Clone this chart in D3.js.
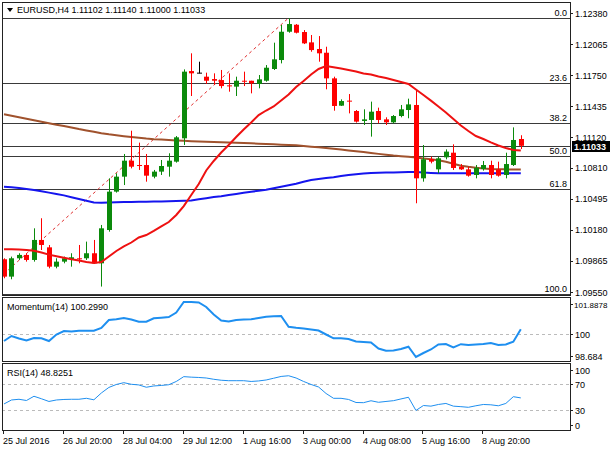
<!DOCTYPE html>
<html>
<head>
<meta charset="utf-8">
<script src="https://cdn.jsdelivr.net/npm/d3@7"></script>
<style>
    body { margin: 0; background: #fff; }
    svg text { font-family: "Liberation Sans", Arial, sans-serif; font-size: 9px; fill: #000; }
</style>
</head>
<body>
<svg id="chart" width="610" height="450"></svg>
<script>
// EURUSD H4 candles
var opens  = [1.09882,1.09706,1.09892,1.09926,1.09875,1.10078,1.10003,1.09807,1.09858,1.09885,
              1.09892,1.09892,1.09943,1.09841,1.10179,1.10568,1.10720,1.10882,1.10838,1.10838,
              1.10720,1.10771,1.10821,1.10872,1.11109,1.11791,1.11775,1.11734,1.11710,1.11700,
              1.11646,1.11633,1.11693,1.11693,1.11660,1.11693,1.11812,1.11903,1.12190,1.12261,
              1.12187,1.12082,1.12015,1.11977,1.11717,1.11440,1.11491,1.11386,1.11285,1.11295,
              1.11386,1.11301,1.11271,1.11335,1.11396,1.11447,1.10703,1.10899,1.10794,1.10916,
              1.10963,1.10821,1.10794,1.10737,1.10798,1.10838,1.10794,1.10737,1.10838,1.11102];
var highs  = [1.09892,1.09909,1.09943,1.09943,1.10196,1.10298,1.10027,1.09892,1.09909,1.09943,
              1.10027,1.10061,1.10078,1.10230,1.10703,1.10754,1.10950,1.11186,1.11065,1.10950,
              1.10788,1.10889,1.10957,1.11132,1.11808,1.11971,1.11886,1.11775,1.11768,1.11802,
              1.11768,1.11734,1.11785,1.11693,1.11751,1.11852,1.12079,1.12258,1.12326,1.12268,
              1.12207,1.12157,1.12146,1.12038,1.11734,1.11504,1.11558,1.11396,1.11403,1.11481,
              1.11420,1.11322,1.11345,1.11447,1.11511,1.11599,1.11041,1.10923,1.10923,1.10997,
              1.11048,1.10848,1.10821,1.10838,1.10879,1.10882,1.10872,1.10963,1.11220,1.11140];
var lows   = [1.09689,1.09679,1.09875,1.09858,1.09858,1.09976,1.09790,1.09790,1.09841,1.09807,
              1.09841,1.09875,1.09834,1.09605,1.10162,1.10558,1.10635,1.10804,1.10788,1.10669,
              1.10703,1.10737,1.10720,1.10862,1.11041,1.11538,1.11768,1.11660,1.11650,1.11616,
              1.11582,1.11538,1.11639,1.11565,1.11616,1.11683,1.11802,1.11869,1.12180,1.12173,
              1.12065,1.11987,1.11886,1.11606,1.11389,1.11437,1.11362,1.11268,1.11244,1.11126,
              1.11261,1.11244,1.11261,1.11322,1.11312,1.10450,1.10669,1.10855,1.10754,1.10896,
              1.10788,1.10788,1.10720,1.10703,1.10781,1.10703,1.10720,1.10703,1.10828,1.11000];
var closes = [1.09706,1.09892,1.09926,1.09875,1.10078,1.10027,1.09807,1.09858,1.09892,1.09902,
              1.09882,1.09943,1.09841,1.10196,1.10568,1.10720,1.10882,1.10821,1.10828,1.10730,
              1.10771,1.10828,1.10882,1.11119,1.11785,1.11768,1.11775,1.11693,1.11693,1.11639,
              1.11636,1.11693,1.11687,1.11666,1.11707,1.11825,1.11910,1.12190,1.12268,1.12180,
              1.12072,1.12004,1.11971,1.11717,1.11437,1.11487,1.11481,1.11278,1.11301,1.11379,
              1.11295,1.11271,1.11335,1.11403,1.11453,1.10703,1.10896,1.10872,1.10906,1.10974,
              1.10808,1.10794,1.10730,1.10811,1.10838,1.10737,1.10730,1.10848,1.11092,1.11033];

// moving averages as drawn on the chart
var maRed   = [1.09983,1.09983,1.09981,1.09976,1.09969,1.09951,1.09929,1.09913,1.09897,1.09882,
               1.09870,1.09854,1.09844,1.09854,1.09910,1.09966,1.10012,1.10052,1.10103,1.10128,
               1.10169,1.10215,1.10260,1.10331,1.10422,1.10534,1.10646,1.10783,1.10879,1.10965,
               1.11041,1.11122,1.11198,1.11269,1.11345,1.11391,1.11432,1.11493,1.11553,1.11630,
               1.11690,1.11756,1.11812,1.11842,1.11829,1.11817,1.11802,1.11787,1.11766,1.11756,
               1.11736,1.11721,1.11700,1.11680,1.11660,1.11604,1.11548,1.11491,1.11432,1.11371,
               1.11305,1.11239,1.11183,1.11132,1.11102,1.11067,1.11036,1.11011,1.10990,1.10985];
var maBlue  = [1.10618,1.10612,1.10605,1.10595,1.10584,1.10571,1.10558,1.10544,1.10530,1.10512,
               1.10494,1.10475,1.10458,1.10456,1.10458,1.10461,1.10463,1.10464,1.10465,1.10466,
               1.10467,1.10469,1.10471,1.10473,1.10476,1.10479,1.10491,1.10502,1.10513,1.10522,
               1.10534,1.10545,1.10556,1.10568,1.10576,1.10587,1.10602,1.10617,1.10632,1.10648,
               1.10669,1.10686,1.10696,1.10706,1.10715,1.10726,1.10736,1.10745,1.10751,1.10757,
               1.10760,1.10762,1.10763,1.10765,1.10767,1.10767,1.10761,1.10757,1.10754,1.10754,
               1.10754,1.10754,1.10754,1.10754,1.10754,1.10754,1.10754,1.10754,1.10754,1.10754];
var maBrown = [1.11353,1.11337,1.11322,1.11307,1.11292,1.11276,1.11261,1.11247,1.11233,1.11219,
               1.11203,1.11189,1.11175,1.11161,1.11150,1.11141,1.11131,1.11122,1.11114,1.11106,
               1.11100,1.11096,1.11091,1.11087,1.11083,1.11080,1.11076,1.11073,1.11071,1.11069,
               1.11066,1.11063,1.11061,1.11058,1.11055,1.11051,1.11048,1.11044,1.11041,1.11038,
               1.11031,1.11024,1.11018,1.11011,1.11003,1.10995,1.10986,1.10977,1.10969,1.10960,
               1.10951,1.10942,1.10934,1.10928,1.10922,1.10914,1.10905,1.10896,1.10887,1.10872,
               1.10851,1.10831,1.10820,1.10811,1.10803,1.10798,1.10795,1.10794,1.10793,1.10793];

// indicator windows
var momentum = [99.616,99.907,99.762,99.645,99.791,99.773,99.616,99.995,100.199,100.170,
                100.216,100.216,100.216,100.373,100.839,100.880,100.956,100.868,100.740,100.740,
                100.938,100.973,101.014,101.276,101.8878,101.8878,101.860,101.597,101.160,100.810,
                100.752,100.839,100.868,100.886,100.956,101.032,101.061,101.072,100.449,100.385,
                100.344,100.286,100.228,99.995,99.773,99.773,99.733,99.587,99.558,99.529,
                99.179,99.051,99.063,99.150,99.284,98.684,98.917,99.121,99.412,99.441,
                99.249,99.430,99.383,99.412,99.441,99.500,99.383,99.412,99.575,100.299];
var rsi = [39.4,45.6,46.7,44.8,51.4,47.5,43.3,45.6,46.4,46.7,
           46.7,48.2,45.9,56.5,65.1,69.7,72.5,70.0,69.0,65.4,
           67.4,68.2,69.3,74.4,81.9,81.1,80.6,79.8,77.8,76.3,
           75.6,75.6,75.6,74.4,75.2,76.7,79.4,82.2,83.3,79.8,
           74.4,69.7,65.8,55.7,48.2,48.2,46.4,41.7,41.4,44.4,
           42.0,43.3,44.5,47.2,49.8,29.3,37.0,36.0,38.6,40.2,
           36.0,35.2,34.2,36.6,38.6,38.1,36.6,40.2,50.7,48.83];

var priceTicks = ["1.12380","1.12065","1.11750","1.11435","1.11120","1.10810","1.10495","1.10180","1.09865","1.09550"];
var lastPrice = 1.11033;
var fibLevels = [0, 23.6, 38.2, 50, 61.8, 100];
var fibAnchors = [{ bar: -3, price: 1.09530 }, { bar: 38, price: 1.12330 }];
var momTicks = [101.8878, 100, 98.684];
var momLevels = [100];
var rsiTicks = [100, 70, 30, 0];
var rsiLevels = [70, 30];
var timeBars = [0, 8, 16, 24, 32, 40, 48, 56, 64];
var timeLabels = ["25 Jul 2016","26 Jul 20:00","28 Jul 04:00","29 Jul 12:00","1 Aug 16:00","3 Aug 00:00","4 Aug 08:00","5 Aug 16:00","8 Aug 20:00"];

var svg = d3.select("#chart");
var left = 2, right = 570;
var mainP = { top: 2, bottom: 295 },
    momP  = { top: 297, bottom: 361 },
    rsiP  = { top: 363, bottom: 430 };

var x = d3.scaleLinear().domain([0, closes.length - 1]).range([4, 520.8]);
var y = d3.scaleLinear().domain([1.09550, 1.12380]).range([292, 13]);
var yMom = d3.scaleLinear().domain([98.684, 101.8878]).range([357, 302]);
var yRsi = d3.scaleLinear().domain([0, 100]).range([429.3, 365]);

//clip for the price window
svg.append("clipPath").attr("id", "clipMain")
    .append("rect").attr("x", left).attr("y", mainP.top)
    .attr("width", right - left).attr("height", mainP.bottom - mainP.top);

var main = svg.append("g").attr("clip-path", "url(#clipMain)");

//fibo levels
var fibHi = fibAnchors[1].price, fibLo = fibAnchors[0].price;
function fibPrice(l) { return fibHi - (fibHi - fibLo) * l / 100; }

main.selectAll(".fib").data(fibLevels).enter().append("line")
    .attr("x1", left).attr("x2", right)
    .attr("y1", function(d) { return Math.round(y(fibPrice(d))) + 0.5; })
    .attr("y2", function(d) { return Math.round(y(fibPrice(d))) + 0.5; })
    .attr("stroke", "#3a3a3a").attr("stroke-width", 1);

//current price line
main.append("line")
    .attr("x1", left).attr("x2", right)
    .attr("y1", Math.round(y(lastPrice)) + 0.5).attr("y2", Math.round(y(lastPrice)) + 0.5)
    .attr("stroke", "#3a3a3a").attr("stroke-width", 1);

//fibo diagonal
main.append("line")
    .attr("x1", x(fibAnchors[0].bar)).attr("y1", y(fibAnchors[0].price))
    .attr("x2", x(fibAnchors[1].bar)).attr("y2", y(fibAnchors[1].price))
    .attr("stroke", "#e03030").attr("stroke-width", 1)
    .attr("stroke-dasharray", "3,3");

//moving averages
function maLine(data, color) {
    var line = d3.line()
        .x(function(d, i) { return x(i); })
        .y(function(d) { return y(d); });
    main.append("path").datum(data)
        .attr("d", line)
        .attr("fill", "none")
        .attr("stroke", color)
        .attr("stroke-width", 2);
}
maLine(maBrown, "#a0522d");
maLine(maBlue, "#1515ee");

//candles
function candleColor(i) {
    if (closes[i] > opens[i]) return "#0b8a0b";
    if (closes[i] < opens[i]) return "#ff0000";
    return "#000";
}
var candle = main.selectAll(".candle").data(d3.range(closes.length)).enter().append("g");

candle.append("line")
    .attr("x1", function(i) { return Math.round(x(i)) + 0.5; })
    .attr("x2", function(i) { return Math.round(x(i)) + 0.5; })
    .attr("y1", function(i) { return y(highs[i]); })
    .attr("y2", function(i) { return y(lows[i]); })
    .attr("stroke", candleColor);

candle.append("rect")
    .attr("x", function(i) { return Math.round(x(i)) - 2; })
    .attr("width", 5)
    .attr("y", function(i) { return y(Math.max(opens[i], closes[i])); })
    .attr("height", function(i) { return Math.max(1, y(Math.min(opens[i], closes[i])) - y(Math.max(opens[i], closes[i]))); })
    .attr("fill", candleColor);

maLine(maRed, "#ee1111");

//fibo labels
svg.selectAll(".fibLabel").data(fibLevels).enter().append("text")
    .attr("x", right - 3)
    .attr("y", function(d) { return Math.round(y(fibPrice(d))) - 2; })
    .attr("text-anchor", "end")
    .text(function(d) { return d.toFixed(1); });

//header
svg.append("path").attr("d", "M7,8 L13,8 L10,12 Z").attr("fill", "#000");
svg.append("text").attr("x", 17).attr("y", 13)
    .text("EURUSD,H4  1.11102 1.11140 1.11000 1.11033");

//momentum window
var mom = svg.append("g");
mom.selectAll(".lvl").data(momLevels).enter().append("line")
    .attr("x1", left).attr("x2", right)
    .attr("y1", function(d) { return Math.round(yMom(d)) + 0.5; })
    .attr("y2", function(d) { return Math.round(yMom(d)) + 0.5; })
    .attr("stroke", "#bbb").attr("stroke-dasharray", "3,3");
mom.append("path").datum(momentum)
    .attr("d", d3.line().x(function(d, i) { return x(i); }).y(function(d) { return yMom(d); }))
    .attr("fill", "none").attr("stroke", "#1e8ff0").attr("stroke-width", 2);
mom.append("text").attr("x", 7).attr("y", momP.top + 13).text("Momentum(14) 100.2990");

//rsi window
var rs = svg.append("g");
rs.selectAll(".lvl").data(rsiLevels).enter().append("line")
    .attr("x1", left).attr("x2", right)
    .attr("y1", function(d) { return Math.round(yRsi(d)) + 0.5; })
    .attr("y2", function(d) { return Math.round(yRsi(d)) + 0.5; })
    .attr("stroke", "#bbb").attr("stroke-dasharray", "3,3");
rs.append("path").datum(rsi)
    .attr("d", d3.line().x(function(d, i) { return x(i); }).y(function(d) { return yRsi(d); }))
    .attr("fill", "none").attr("stroke", "#1e8ff0").attr("stroke-width", 1);
rs.append("text").attr("x", 7).attr("y", rsiP.top + 13).text("RSI(14) 48.8251");

//window borders
[mainP, momP, rsiP].forEach(function(p) {
    svg.append("rect")
        .attr("x", left + 0.5).attr("y", p.top + 0.5)
        .attr("width", right - left).attr("height", p.bottom - p.top)
        .attr("fill", "none").attr("stroke", "#222");
});

//right scales
function rightAxis(values, scale, p, fmt) {
    values.forEach(function(v) {
        var yy = Math.min(Math.max(scale(+v), p.top + 7), p.bottom - 5);
        var label = fmt(v);
        svg.append("line").attr("x1", right).attr("x2", right + 3)
            .attr("y1", Math.round(yy) + 0.5).attr("y2", Math.round(yy) + 0.5)
            .attr("stroke", "#222");
        var t = svg.append("text").attr("x", right + 5).attr("y", yy + 3.5).text(label);
        //long labels a bit smaller so they stay inside the window
        if (label.length > 7) t.attr("x", right + 4).style("font-size", "8px");
    });
}
rightAxis(priceTicks, y, { top: 0, bottom: 300 }, function(v) { return v; });
rightAxis(momTicks, yMom, momP, function(v) { return String(v); });
rightAxis(rsiTicks, yRsi, rsiP, function(v) { return String(v); });

//last price box
svg.append("rect").attr("x", right + 2).attr("y", Math.round(y(lastPrice)) - 5)
    .attr("width", 38).attr("height", 11).attr("fill", "#000");
svg.append("text").attr("x", right + 4).attr("y", Math.round(y(lastPrice)) + 3.5)
    .style("fill", "#fff").style("font-weight", "bold")
    .text(lastPrice.toFixed(5));

//time axis
timeBars.forEach(function(b, k) {
    var xx = Math.round(x(b)) - 1;
    svg.append("line").attr("x1", xx + 0.5).attr("x2", xx + 0.5)
        .attr("y1", rsiP.bottom).attr("y2", rsiP.bottom + 4).attr("stroke", "#222");
    svg.append("text").attr("x", xx).attr("y", 444).text(timeLabels[k]);
});
</script>
</body>
</html>
